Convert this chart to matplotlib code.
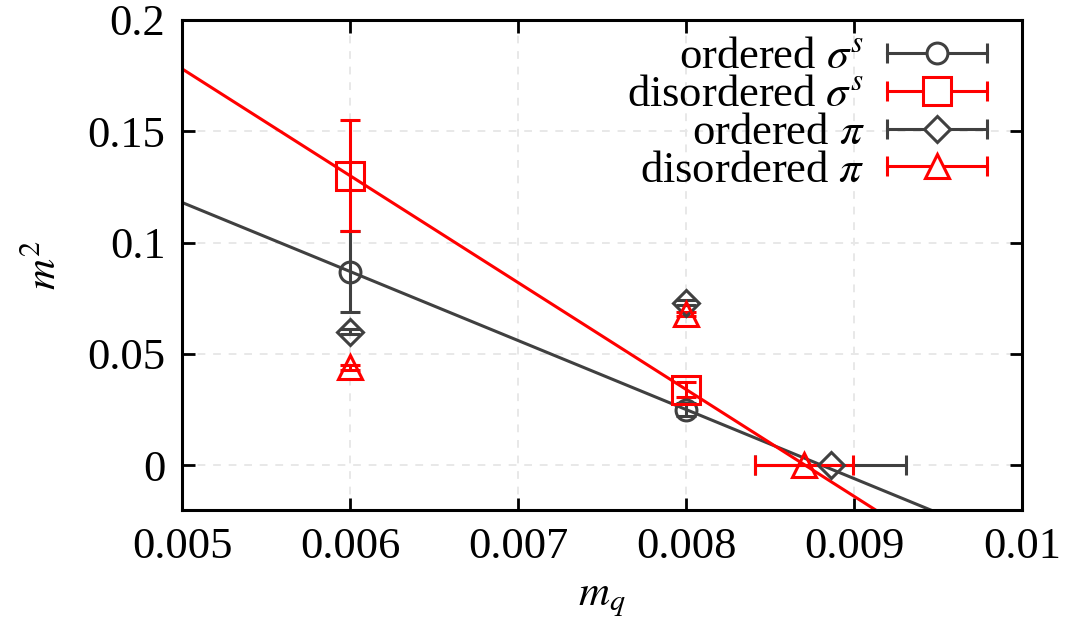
import numpy as np
import matplotlib
matplotlib.use("Agg")
from matplotlib import pyplot as plt
from matplotlib.lines import Line2D
from matplotlib.legend_handler import HandlerBase

plt.rcParams['font.family'] = 'Liberation Serif'
plt.rcParams['mathtext.fontset'] = 'stix'

GRAY = '#404040'
RED = '#ff0000'

# quark mass values
mq = [0.006, 0.008]

# sigma masses squared
ord_sigma = [0.087, 0.025]
ord_sigma_err = [0.018, 0.003]
dis_sigma = [0.130, 0.034]
dis_sigma_err = [0.025, 0.0035]

# pion masses squared
ord_pi = [0.060, 0.073]
ord_pi_err = [0.001, 0.001]
dis_pi = [0.044, 0.068]
dis_pi_err = [0.001, 0.001]

# zero crossings with x errors
ord_zero_x = [0.00886]
ord_zero_xerr = [0.00045]
dis_zero_x = [0.0087]
dis_zero_xerr = [0.00029]
zero_y = [0.0]

xticks = [0.005, 0.006, 0.007, 0.008, 0.009, 0.01]
xticklabels = ['0.005', '0.006', '0.007', '0.008', '0.009', '0.01']
yticks = [0, 0.05, 0.1, 0.15, 0.2]
yticklabels = ['0', '0.05', '0.1', '0.15', '0.2']


class CapHandler(HandlerBase):
    """gnuplot style key: line with end caps and a marker in the middle"""
    def create_artists(self, legend, orig, xdescent, ydescent, width, height,
                       fontsize, trans):
        y = height / 2 - ydescent
        x0, x1 = -xdescent, width - xdescent
        c = orig.get_color()
        line = Line2D([x0, x1], [y, y], color=c, lw=2.2)
        caps = Line2D([x0, x1], [y, y], color=c, ls='none', marker='|',
                      ms=14, mew=2.2)
        mk = Line2D([(x0 + x1) / 2], [y], color=c, ls='none',
                    marker=orig.get_marker(), ms=orig.get_markersize(),
                    mfc='white', mec=c, mew=2.2)
        for a in (line, caps, mk):
            a.set_transform(trans)
        return [line, caps, mk]


fig = plt.figure(figsize=(10.65, 6.21), dpi=100)
ax = fig.add_axes([0.171, 0.179, 0.789, 0.789])

common = dict(ls='none', mfc='none', mew=2.2, elinewidth=2.2, capsize=7,
              capthick=2.2)

xs = np.array([0.005, 0.01])
k_o = np.polyfit(mq, ord_sigma, 1)
k_d = np.polyfit(mq, dis_sigma, 1)
ax.plot(xs, np.polyval(k_o, xs), color=GRAY, lw=2.2, zorder=2)
ax.plot(xs, np.polyval(k_d, xs), color=RED, lw=2.2, zorder=2)

ax.errorbar(mq, ord_sigma, yerr=ord_sigma_err, marker='o', ms=15,
            color=GRAY, **common, zorder=3)
ax.errorbar(mq, dis_sigma, yerr=dis_sigma_err, marker='s', ms=20,
            color=RED, **common, zorder=3)
ax.errorbar(mq, ord_pi, yerr=ord_pi_err, marker='D', ms=13,
            color=GRAY, **common, zorder=3)
ax.errorbar(ord_zero_x, zero_y, xerr=ord_zero_xerr, marker='D', ms=13,
            color=GRAY, **common, zorder=3)
ax.errorbar(mq, dis_pi, yerr=dis_pi_err, marker='^', ms=17,
            color=RED, **common, zorder=3)
ax.errorbar(dis_zero_x, zero_y, xerr=dis_zero_xerr, marker='^', ms=17,
            color=RED, **common, zorder=3)

handles = [
    Line2D([], [], color=GRAY, marker='o', ms=15),
    Line2D([], [], color=RED, marker='s', ms=20),
    Line2D([], [], color=GRAY, marker='D', ms=13),
    Line2D([], [], color=RED, marker='^', ms=17),
]
labels = [r'ordered $\sigma^s$', r'disordered $\sigma^s$',
          r'ordered $\pi$', r'disordered $\pi$']
ax.legend(handles, labels, loc='upper right', frameon=False,
          markerfirst=False, fontsize=32, handlelength=2.25,
          handletextpad=0.5, labelspacing=-0.05, borderpad=0,
          bbox_to_anchor=(0.984, 1.01),
          handler_map={Line2D: CapHandler()})

ax.set_xlim(0.005, 0.01)
ax.set_ylim(-0.02, 0.2)
ax.set_xticks(xticks)
ax.set_xticklabels(xticklabels)
ax.set_yticks(yticks)
ax.set_yticklabels(yticklabels)
ax.tick_params(direction='in', length=9, width=2, labelsize=32,
               top=True, right=True, pad=12)
for s in ax.spines.values():
    s.set_linewidth(2.2)
ax.grid(True, color='#e8e8e8', ls=(0, (4, 4)), lw=1.4)
ax.set_axisbelow(True)

ax.set_xlabel(r'$m_q$', fontsize=31, labelpad=10)
ax.set_ylabel(r'$m^2$', fontsize=31, labelpad=16)

fig.savefig('out.png', dpi=100)
